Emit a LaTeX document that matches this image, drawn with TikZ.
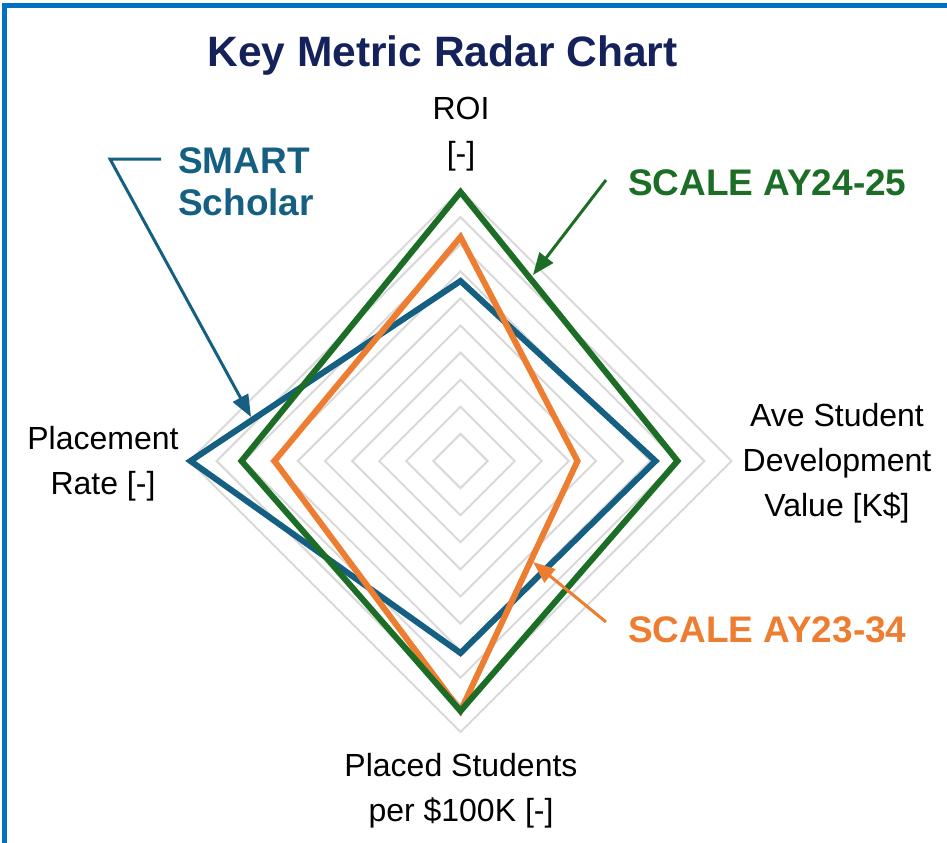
\documentclass[tikz,border=0pt]{standalone}
\usepackage{fontspec}
\setmainfont{Liberation Sans}
\usetikzlibrary{arrows.meta}
\definecolor{frameblue}{HTML}{0070C0}
\definecolor{titlenavy}{HTML}{14215A}
\definecolor{smartblue}{HTML}{156082}
\definecolor{scalegreen}{HTML}{1C6D25}
\definecolor{scaleorange}{HTML}{ED7D31}
\definecolor{gridgray}{HTML}{D9D9D9}
\begin{document}
\begin{tikzpicture}[x=1bp,y=-1bp,
  gridline/.style={draw=gridgray,line width=2bp,line join=miter},
  series/.style={line width=6bp,line join=miter,miter limit=10},
  axislabel/.style={font=\fontsize{32bp}{45bp}\selectfont,align=center,inner sep=0pt,text=black},
  serieslabel/.style={font=\fontsize{37bp}{42bp}\selectfont\bfseries,inner sep=0pt,anchor=base west},
  callout/.style={line width=3bp,-{Triangle[length=22bp,width=17bp]}},
]
\useasboundingbox (0,0) rectangle (947,843);
% frame
\draw[frameblue,line width=5bp] (4.5,843) -- (4.5,5.5) -- (947,5.5);
% title
\node[font=\fontsize{42.5bp}{48bp}\selectfont\bfseries,text=titlenavy,inner sep=0pt,anchor=base] (title) at (442.5,66) {Key Metric Radar Chart};
% grid and series
\begin{scope}[shift={(460.5,461)}]
  \foreach \k in {1,...,10}{
    \pgfmathsetmacro{\r}{27.1*\k}
    \draw[gridline] (0,-\r) -- (\r,0) -- (0,\r) -- (-\r,0) -- cycle;
  }
  \draw[series,smartblue] (0,-180) -- (195,0) -- (0,192) -- (-270,0) -- cycle;
  \draw[series,scaleorange] (0,-224) -- (117,0) -- (0,250) -- (-186,0) -- cycle;
  \draw[series,scalegreen] (0,-269) -- (217,0) -- (0,250) -- (-219,0) -- cycle;
\end{scope}
% axis labels
\node[axislabel] (roi) at (461,134) {ROI\\{}[-]};
\node[axislabel] (asdv) at (837,463) {Ave Student\\Development\\Value [K\$]};
\node[axislabel] (psp) at (461,791) {Placed Students\\per \$100K [-]};
\node[axislabel] (pr) at (103,464) {Placement\\Rate [-]};
% series labels
\node[serieslabel,text=smartblue] (smart) at (178,173) {SMART};
\node[serieslabel,text=smartblue] (scholar) at (178,215) {Scholar};
\node[serieslabel,text=scalegreen] (s2425) at (628,195) {SCALE AY24-25};
\node[serieslabel,text=scaleorange] (s2334) at (628,642) {SCALE AY23-34};
% callouts
\coordinate (smartstart) at (161,159);
\coordinate (smartbend) at (110,159);
\coordinate (smarttip) at (251,417);
\coordinate (greenstart) at (606,180);
\coordinate (greentip) at (533,275);
\coordinate (orangestart) at (606,622);
\coordinate (orangetip) at (533,562);
\draw[callout,smartblue] (smartstart) -- (smartbend) -- (smarttip);
\draw[callout,scalegreen] (greenstart) -- (greentip);
\draw[callout,scaleorange] (orangestart) -- (orangetip);
\end{tikzpicture}
\end{document}
